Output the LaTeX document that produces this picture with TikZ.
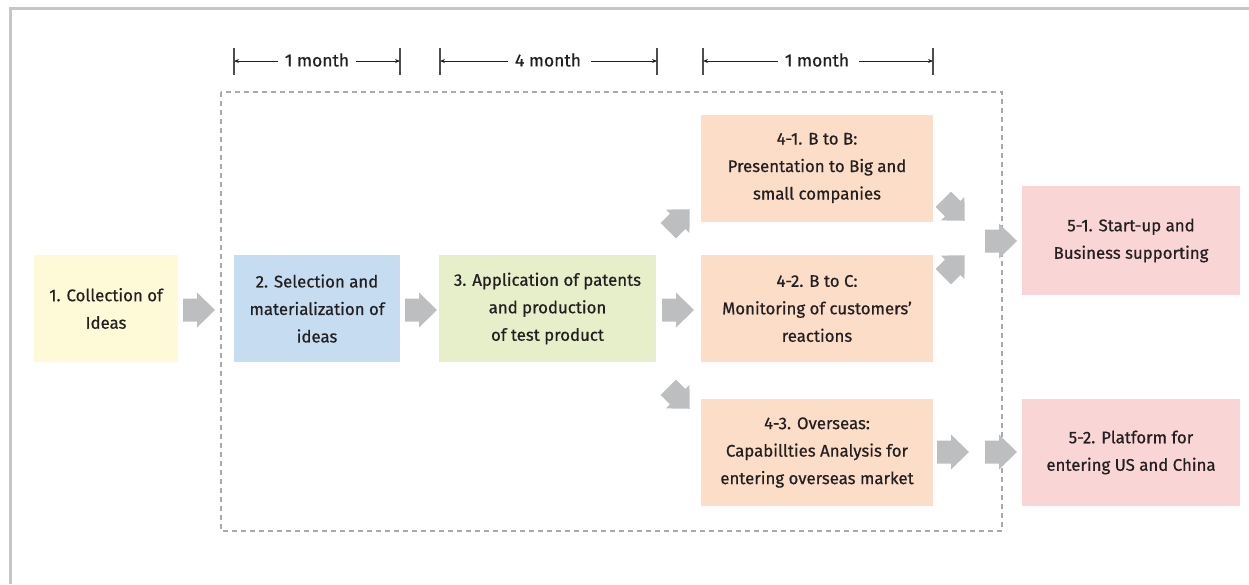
\documentclass[tikz,border=0pt]{standalone}
\usepackage{fontspec}
\setmainfont{Fira Sans}[FakeBold=0.6]
\usetikzlibrary{arrows.meta}
\definecolor{frame}{HTML}{C6C6C6}
\definecolor{dashc}{HTML}{A7A9AC}
\definecolor{txt}{HTML}{231F20}
\definecolor{cyel}{HTML}{FEF9D6}
\definecolor{cblue}{HTML}{C6DCF1}
\definecolor{cgreen}{HTML}{E6EFC9}
\definecolor{cpeach}{HTML}{FCDDC7}
\definecolor{cpink}{HTML}{F9D5D6}
\definecolor{agray}{HTML}{BCBEC0}
\tikzset{
  box/.style={rectangle, inner sep=0pt, align=center, text=txt,
    font=\fontsize{16.8}{27.5}\selectfont, minimum height=107},
  dimtxt/.style={inner sep=0pt, text=txt, font=\fontsize{17.5}{20}\selectfont},
  dimline/.style={draw=txt, line width=0.9, -{Stealth[length=5,width=4]}},
  tick/.style={draw=txt!80, line width=1.3},
  barrow/.pic={\fill[agray] (-16,-11.5) -- (-2,-11.5) -- (-2,-17.5) -- (16,0)
     -- (-2,17.5) -- (-2,11.5) -- (-16,11.5) -- cycle;}
}
\begin{document}
\begin{tikzpicture}[x=1pt,y=-1pt]
\useasboundingbox (0,0) rectangle (1249,584);
% outer frame
\draw[frame, line width=3] (10,584) -- (10,8) -- (1249,8);
% dashed region
\draw[dashc, line width=1.5, dash pattern=on 5 off 4] (221,92) rectangle (1002,531);
% boxes
\node[box, fill=cyel, minimum width=144] (b1) at (106,308.5) {1. Collection of\\Ideas};
\node[box, fill=cblue, minimum width=166] (b2) at (317,308.5) {2. Selection and\\materialization of\\ideas};
\node[box, fill=cgreen, minimum width=217] (b3) at (547.5,308.5) {3. Application of patents\\and production\\of test product};
\node[box, fill=cpeach, minimum width=232] (b41) at (817,168) {4-1. B to B:\\Presentation to Big and\\small companies};
\node[box, fill=cpeach, minimum width=232] (b42) at (817,308.5) {4-2. B to C:\\Monitoring of customers'\\reactions};
\node[box, fill=cpeach, minimum width=232] (b43) at (817,452.5) {4-3. Overseas:\\Capabillties Analysis for\\entering overseas market};
\node[box, fill=cpink, minimum width=218, minimum height=109] (b51) at (1131,240.5) {5-1. Start-up and\\Business supporting};
\node[box, fill=cpink, minimum width=218] (b52) at (1131,452.5) {5-2. Platform for\\entering US and China};
% block arrows
\pic at (199,310) {barrow};
\pic at (421,310) {barrow};
\pic at (678,310) {barrow};
\pic at (1001,241) {barrow};
\pic at (953,452) {barrow};
\pic at (1001,452) {barrow};
\pic[rotate=45, scale=0.95] at (679,220) {barrow};
\pic[rotate=-45, scale=0.95] at (679,398) {barrow};
\pic[rotate=-45, scale=0.95] at (954,210) {barrow};
\pic[rotate=45, scale=0.95] at (954,266) {barrow};
% dimension lines
\foreach \x/\n in {234/a1,400/a2,440/b1,657/b2,703/c1,933/c2}{
  \draw[tick] (\x,48) -- (\x,75);
  \coordinate (t\n) at (\x,61);
}
\node[dimtxt] (d1) at (317,60) {1 month};
\node[dimtxt] (d2) at (548,60) {4 month};
\node[dimtxt] (d3) at (817,60) {1 month};
\draw[dimline] ([xshift=-7]d1.west |- ta1) -- (ta1);
\draw[dimline] ([xshift=7]d1.east |- ta2) -- (ta2);
\draw[dimline] ([xshift=-7]d2.west |- tb1) -- (tb1);
\draw[dimline] ([xshift=10]d2.east |- tb2) -- (tb2);
\draw[dimline] ([xshift=-7]d3.west |- tc1) -- (tc1);
\draw[dimline] ([xshift=10]d3.east |- tc2) -- (tc2);
\end{tikzpicture}
\end{document}
